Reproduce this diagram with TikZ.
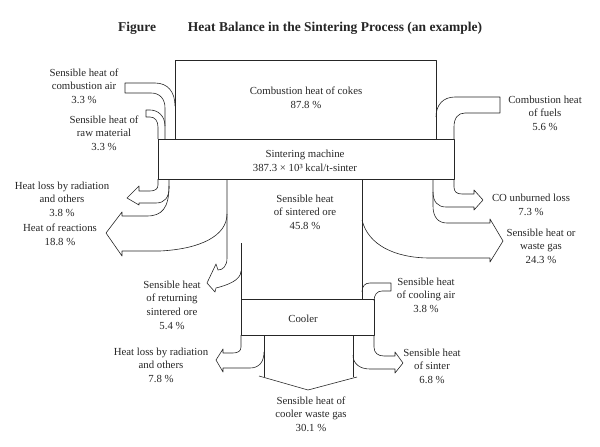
\documentclass[tikz,border=0pt]{standalone}
\usepackage{fontspec}
\setmainfont{Liberation Serif}
\begin{document}
\begin{tikzpicture}[x=1pt,y=-1pt,
  flow/.style={line width=0.6pt,draw=black!85,line join=round},
  lbl/.style={align=center,inner sep=0pt,font=\fontsize{10.8}{13.6}\selectfont,text=black!85},
  ttl/.style={inner sep=0pt,font=\fontsize{13.5}{16}\selectfont\bfseries,text=black!85}]
\useasboundingbox (0,0) rectangle (600,447);
% title
\node[ttl] (fig) at (137,28) {Figure};
\node[ttl] (title) at (335,28) {Heat Balance in the Sintering Process (an example)};
% cokes box
\draw[flow] (175,139) -- (175,60) -- (436,60) -- (436,139);
% sintering machine bar
\draw[flow] (158,139) rectangle (454,179);
% combustion air
\draw[flow] (175,106) .. controls (175,92) and (168,83) .. (155,83) -- (125,83) -- (125,93) -- (151,93)
  .. controls (160,93) and (165,99) .. (165,108) -- (165,139);
% raw material
\draw[flow] (165,126) .. controls (165,116) and (158,110) .. (150,110) -- (146,110) -- (146,117) -- (150,117)
  .. controls (155,117) and (158,121) .. (158,127) -- (158,139);
% fuels
\draw[flow] (436,117) .. controls (436,105) and (443,97) .. (455,97) -- (500,97) -- (500,113) -- (465,113)
  .. controls (458,113) and (454,118) .. (454,127) -- (454,139);
% heat loss by radiation (machine)
\draw[flow] (158,179) -- (158,185) .. controls (158,189) and (155,191) .. (150,191) -- (139,191)
  -- (139,186) -- (127,198) -- (139,205) -- (139,203) -- (156,203)
  .. controls (165,203) and (169,197) .. (169,188) -- (169,179);
% heat of reactions
\draw[flow] (169,186) .. controls (169,208) and (162,216) .. (147,216) -- (122,216)
  -- (122,212) -- (106,233) -- (122,256) -- (122,251) -- (160,251)
  .. controls (200,249) and (227,236) .. (227,214);
% sintered ore left edge and returning ore
\draw[flow] (227,179) -- (227,258) .. controls (227,266) and (223,270) .. (218,270)
  -- (216,264) -- (207,283) -- (215,292) -- (216,288)
  .. controls (228,285) and (241,280) .. (241,271);
\draw[flow] (241,243) -- (241,299);
% sintered ore right edge
\draw[flow] (362,179) -- (362,299);
% waste gas (machine)
\draw[flow] (362,220) .. controls (368,245) and (395,258) .. (430,258) -- (490,258)
  -- (490,262) -- (503,241) -- (490,219) -- (490,223) -- (447,223)
  .. controls (438,223) and (433,217) .. (433,206) -- (433,179);
% CO unburned loss
\draw[flow] (454,179) -- (454,187) .. controls (454,192) and (457,194) .. (462,194) -- (474,194)
  -- (474,190) -- (483,200) -- (474,210) -- (474,207) -- (446,207)
  .. controls (438,207) and (433,202) .. (433,192);
% cooler box
\draw[flow] (241,299) rectangle (374,335);
% cooling air
\draw[flow] (362,292) .. controls (362,286) and (365,283) .. (370,283) -- (391,283) -- (391,291) -- (382,291)
  .. controls (377,291) and (374,295) .. (374,301);
% heat loss by radiation (cooler)
\draw[flow] (241,335) -- (241,347) .. controls (241,351) and (238,353) .. (233,353) -- (223,353)
  -- (223,349) -- (216,360) -- (223,372) -- (223,368) -- (250,368)
  .. controls (259,368) and (264,362) .. (264,352);
% cooler waste gas
\draw[flow] (264,335) -- (264,377);
\draw[flow] (353,335) -- (353,377);
\draw[flow] (259,376) -- (308,390) -- (357,377);
% sensible heat of sinter
\draw[flow] (374,335) -- (374,347) .. controls (374,353) and (378,356) .. (384,356) -- (395,356)
  -- (395,352) -- (403,363) -- (395,373) -- (395,369) -- (370,369)
  .. controls (360,369) and (353,364) .. (353,355);
% labels
\node[lbl] (lair) at (84,86) {Sensible heat of\\combustion air\\3.3 \%};
\node[lbl] (lraw) at (104,133) {Sensible heat of\\raw material\\3.3 \%};
\node[lbl] (lrad1) at (62,199) {Heat loss by radiation\\and others\\3.8 \%};
\node[lbl] (lreac) at (60,235) {Heat of reactions\\18.8 \%};
\node[lbl] (lcoke) at (306,98) {Combustion heat of cokes\\87.8 \%};
\node[lbl] (lmach) at (305,161) {Sintering machine\\387.3 × 10³ kcal/t-sinter};
\node[lbl] (lfuel) at (545,113) {Combustion heat\\of fuels\\5.6 \%};
\node[lbl] (lco) at (531,205) {CO unburned loss\\7.3 \%};
\node[lbl] (lwg) at (541,246) {Sensible heat or\\waste gas\\24.3 \%};
\node[lbl] (lsint) at (305,212) {Sensible heat\\of sintered ore\\45.8 \%};
\node[lbl] (lret) at (172,305) {Sensible heat\\of returning\\sintered ore\\5.4 \%};
\node[lbl] (lcair) at (426,295) {Sensible heat\\of cooling air\\3.8 \%};
\node[lbl] (lcool) at (303,319) {Cooler};
\node[lbl] (lrad2) at (161,365) {Heat loss by radiation\\and others\\7.8 \%};
\node[lbl] (lsntr) at (432,366) {Sensible heat\\of sinter\\6.8 \%};
\node[lbl] (lcwg) at (311,414) {Sensible heat of\\cooler waste gas\\30.1 \%};
\end{tikzpicture}
\end{document}
